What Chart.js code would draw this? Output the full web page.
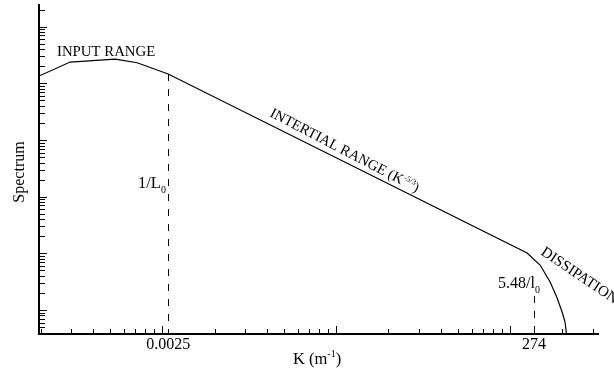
<!DOCTYPE html>
<html>
<head>
<meta charset="utf-8">
<script src="https://cdn.jsdelivr.net/npm/chart.js@4.4.1/dist/chart.umd.min.js"></script>
<style>
  html, body { margin: 0; padding: 0; background: #fff; }
  #wrap { width: 614px; height: 373px; position: relative; }
</style>
</head>
<body>
<div id="wrap"><canvas id="spectrumChart"></canvas></div>
<script>
// wavenumber (plot units) and spectrum level along the curve
const waveNumbers = [0.196, 0.296, 0.537, 0.718, 1.083, 125.2, 148.7, 169.8, 186.3, 199.0, 207.0, 210.5];
const spectrum = [13460, 23770, 26860, 23110, 14600, 10.14, 6.22, 3.12, 1.63, 0.922, 0.614, 0.393];

// labelled wavenumbers on the K axis (1/L0 and 5.48/l0)
const kTickValues = [1.083, 137.4];
const kTickLabels = ["0.0025", "274"];
// where each dashed marker starts (spectrum level)
const markerTops = [14600, 1.77];

const xRange = [0.196, 320];
const yRange = [0.377, 241500];

const serif = "'Liberation Serif', 'Times New Roman', serif";

// 1..9 x 10^n tick values inside a range
function logTicks(min, max) {
    const out = [];
    for (let d = Math.floor(Math.log10(min)); d <= Math.ceil(Math.log10(max)); d++) {
        for (let m = 1; m < 10; m++) {
            const v = m * Math.pow(10, d);
            if (v >= min && v <= max) out.push({ v: v, major: m === 1 });
        }
    }
    return out;
}

// draws a row of text pieces (for sub/superscripts)
function drawRuns(ctx, runs, x0, y0) {
    let cx = x0;
    runs.forEach(function (r) {
        ctx.font = r.size + "px " + serif;
        ctx.fillText(r.text, cx, y0 + (r.dy || 0));
        cx += ctx.measureText(r.text).width;
    });
}

const annotations = {
    id: "annotations",
    afterDraw(chart) {
        const { ctx, chartArea: area } = chart;
        const x = chart.scales.x;
        const y = chart.scales.y;
        ctx.save();
        ctx.strokeStyle = "#000";
        ctx.fillStyle = "#000";
        ctx.lineWidth = 1;

        // inward tick marks
        ctx.beginPath();
        logTicks(xRange[0], xRange[1]).forEach(function (t) {
            const px = Math.round(x.getPixelForValue(t.v)) + 0.5;
            ctx.moveTo(px, area.bottom);
            ctx.lineTo(px, area.bottom - (t.major ? 8 : 5));
        });
        logTicks(yRange[0], yRange[1]).forEach(function (t) {
            const py = Math.round(y.getPixelForValue(t.v)) + 0.5;
            ctx.moveTo(area.left, py);
            ctx.lineTo(area.left + (t.major ? 8 : 6), py);
        });
        ctx.stroke();

        // dashed markers at 1/L0 and 5.48/l0
        ctx.setLineDash([7, 8]);
        kTickValues.forEach(function (k, i) {
            const px = Math.round(x.getPixelForValue(k)) + 0.5;
            ctx.beginPath();
            ctx.moveTo(px, y.getPixelForValue(markerTops[i]));
            ctx.lineTo(px, area.bottom);
            ctx.stroke();
        });
        ctx.setLineDash([]);

        ctx.textBaseline = "alphabetic";
        ctx.textAlign = "left";
        drawRuns(ctx, [{ text: "INPUT RANGE", size: 14.8 }], 57, 56);
        drawRuns(ctx, [{ text: "1/L", size: 16.5 }, { text: "0", size: 10, dy: 5 }], 138, 188);
        drawRuns(ctx, [{ text: "5.48/l", size: 16 }, { text: "0", size: 10, dy: 5 }], 498, 288);
        drawRuns(ctx, [{ text: "K (m", size: 16.5 }, { text: "-1", size: 10, dy: -7 }, { text: ")", size: 16.5 }], 293, 364);

        ctx.save();
        ctx.translate(269, 116);
        ctx.rotate(27.5 * Math.PI / 180);
        drawRuns(ctx, [
            { text: "INTERTIAL RANGE (K", size: 14.6 },
            { text: "-5/3", size: 8, dy: -6 },
            { text: ")", size: 14.6 }
        ], 0, 0);
        ctx.restore();

        ctx.save();
        ctx.translate(540, 254);
        ctx.rotate(34 * Math.PI / 180);
        drawRuns(ctx, [{ text: "DISSIPATION", size: 15 }], 0, 0);
        ctx.restore();

        ctx.save();
        ctx.translate(24, 172);
        ctx.rotate(-Math.PI / 2);
        ctx.textAlign = "center";
        ctx.font = "16px " + serif;
        ctx.fillText("Spectrum", 0, 0);
        ctx.restore();

        ctx.restore();
    }
};

new Chart(document.getElementById("spectrumChart"), {
    type: "line",
    data: {
        datasets: [
            {
                data: waveNumbers.map((k, i) => ({ x: k, y: spectrum[i] })),
                borderColor: "#000",
                borderWidth: 1.2,
                pointRadius: 0,
                tension: 0,
                fill: false,
            },
        ],
    },
    options: {
        responsive: true,
        maintainAspectRatio: false,
        animation: false,
        layout: { padding: { top: 5, right: 16, left: 0, bottom: 0 } },
        plugins: {
            legend: { display: false },
            tooltip: { enabled: false },
        },
        scales: {
            x: {
                type: "logarithmic",
                min: xRange[0],
                max: xRange[1],
                grid: { display: false, drawTicks: false },
                border: { color: "#000", width: 2 },
                afterBuildTicks: function (scale) {
                    scale.ticks = kTickValues.map((v) => ({ value: v }));
                },
                ticks: {
                    callback: (value, index) => kTickLabels[index],
                    font: { family: serif, size: 16 },
                    color: "#000",
                    padding: 1,
                    maxRotation: 0,
                    autoSkip: false,
                },
                afterFit: function (scale) {
                    scale.height = 39;
                },
            },
            y: {
                type: "logarithmic",
                min: yRange[0],
                max: yRange[1],
                grid: { display: false, drawTicks: false },
                border: { color: "#000", width: 2 },
                ticks: { display: false },
                afterFit: function (scale) {
                    scale.width = 39;
                },
            },
        },
    },
    plugins: [annotations],
});
</script>
</body>
</html>
